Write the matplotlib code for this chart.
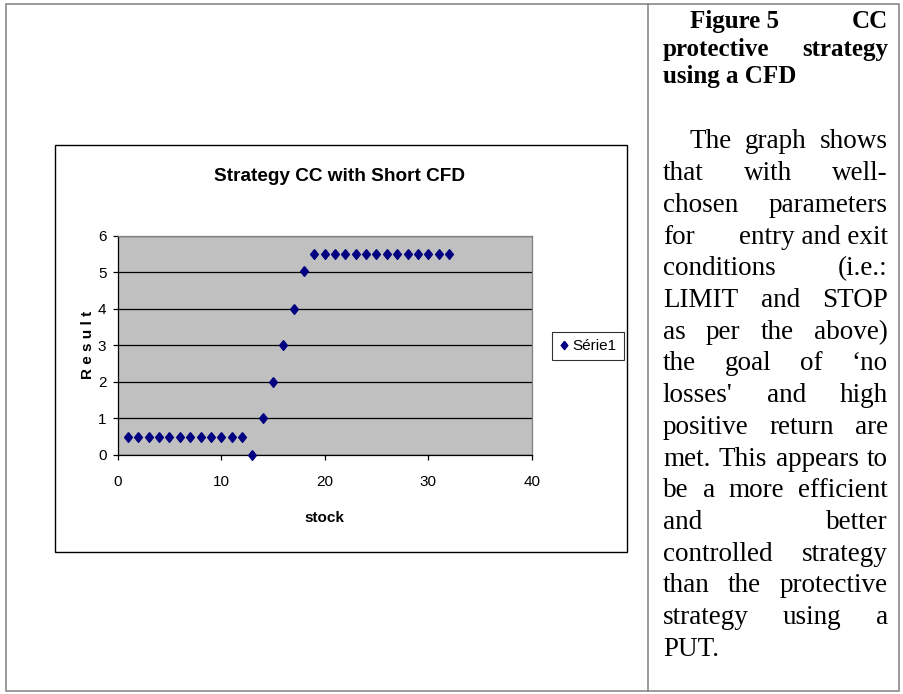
import matplotlib

matplotlib.use("Agg")
import matplotlib.pyplot as plt
from matplotlib.lines import Line2D
from matplotlib.patches import Rectangle

# data
stock = [1, 2, 3, 4, 5, 6, 7, 8, 9, 10, 11, 12, 13, 14, 15, 16,
         17, 18, 19, 20, 21, 22, 23, 24, 25, 26, 27, 28, 29, 30, 31, 32]
result = [0.5, 0.5, 0.5, 0.5, 0.5, 0.5, 0.5, 0.5, 0.5, 0.5, 0.5, 0.5,
          0.0, 1.0, 2.0, 3.0, 4.0, 5.03,
          5.5, 5.5, 5.5, 5.5, 5.5, 5.5, 5.5, 5.5, 5.5, 5.5, 5.5, 5.5, 5.5, 5.5]
x_ticks = [0, 10, 20, 30, 40]
y_ticks = [0, 1, 2, 3, 4, 5, 6]
series_name = "Série1"
chart_title = "Strategy CC with Short CFD"

caption_lines = [
    ["Figure 5", "CC"],
    ["protective", "strategy"],
    ["using a CFD"],
]
body_lines = [
    ["The", "graph", "shows"],
    ["that", "with", "well-"],
    ["chosen", "parameters"],
    ["for", "entry and exit"],
    ["conditions", "(i.e.:"],
    ["LIMIT", "and", "STOP"],
    ["as", "per", "the", "above)"],
    ["the", "goal", "of", "\u2018no"],
    ["losses'", "and", "high"],
    ["positive", "return", "are"],
    ["met.", "This", "appears", "to"],
    ["be", "a", "more", "efficient"],
    ["and", "better"],
    ["controlled", "strategy"],
    ["than", "the", "protective"],
    ["strategy", "using", "a"],
    ["PUT."],
]

W, H = 904, 694
fig = plt.figure(figsize=(W / 100, H / 100), dpi=100)
fig.patch.set_facecolor("white")


def fx(px):
    return px / W


def fy(py):
    return 1 - py / H


# table frame
grey = "#808080"
fig.add_artist(Rectangle((fx(6), fy(691)), fx(899) - fx(6), fy(4) - fy(691),
                         transform=fig.transFigure, fill=False, edgecolor=grey, lw=1.1))
fig.add_artist(Line2D([fx(648), fx(648)], [fy(4), fy(691)],
                      transform=fig.transFigure, color=grey, lw=1.1))

# chart area frame
fig.add_artist(Rectangle((fx(55), fy(552)), fx(627) - fx(55), fy(145) - fy(552),
                         transform=fig.transFigure, fill=False, edgecolor="black", lw=1.0))

sans = "Liberation Sans"
ax = fig.add_axes([fx(117.7), fy(455), fx(531.7) - fx(117.7), fy(235.7) - fy(455)])
ax.set_facecolor("#C0C0C0")
ax.set_xlim(0, 40)
ax.set_ylim(0, 6)
ax.set_xticks(x_ticks)
ax.set_yticks(y_ticks)
for s in ["top", "right"]:
    ax.spines[s].set_color(grey)
for s in ["left", "bottom"]:
    ax.spines[s].set_color("black")
for s in ax.spines.values():
    s.set_linewidth(0.9)
ax.yaxis.grid(True, color="black", lw=0.9)
ax.set_axisbelow(True)
ax.tick_params(axis="both", direction="out", length=3.6, width=0.9, colors="black",
               labelsize=11)
ax.tick_params(axis="y", pad=4.5)
ax.tick_params(axis="x", pad=11)
for lab in ax.get_xticklabels() + ax.get_yticklabels():
    lab.set_fontfamily(sans)

diamond = [(0, 1), (0.8, 0), (0, -1), (-0.8, 0), (0, 1)]
ax.plot(stock, result, linestyle="none", marker=diamond, markersize=7,
        color="#000080", label=series_name, clip_on=False, zorder=3)

leg = ax.legend(loc="center", bbox_to_anchor=(fx(588), fy(346)),
                bbox_transform=fig.transFigure, frameon=True, fancybox=False,
                handlelength=0.6, handletextpad=0.3, borderpad=0.45,
                prop={"family": sans, "size": 11})
leg.get_frame().set_edgecolor("black")
leg.get_frame().set_linewidth(0.8)
leg.legend_handles[0].set_markersize(6)

fig.text(fx(340), fy(181), chart_title, ha="center", va="baseline",
         fontfamily=sans, fontweight="bold", fontsize=13.7)
fig.text(fx(324), fy(518), "stock", ha="center", va="center",
         fontfamily=sans, fontweight="bold", fontsize=11)
fig.text(fx(88), fy(345), " ".join("Result"), ha="center", va="center", rotation=90,
         fontfamily=sans, fontweight="bold", fontsize=11)

# justified text in right column
renderer = fig.canvas.get_renderer()


def justify(lines, left, right, base, step, indent, size, weight):
    for i, groups in enumerate(lines):
        y = base + i * step
        x = left + (indent if i == 0 else 0)
        items = []
        for g in groups:
            t = fig.text(fx(x), fy(y), g, ha="left", va="baseline",
                         fontfamily="Liberation Serif", fontsize=size, fontweight=weight)
            items.append((t, t.get_window_extent(renderer).width))
        last = i == len(lines) - 1
        if len(items) == 1 or last:
            gap = size * 0.25 * 100 / 72
        else:
            gap = (right - x - sum(w for _, w in items)) / (len(items) - 1)
        for t, w in items:
            t.set_x(fx(x))
            x += w + gap


justify(caption_lines, 663, 888, 28.3, 27.6, 27, 18, "bold")
justify(body_lines, 663, 888, 148.5, 31.7, 27, 19.5, "normal")

fig.savefig("out.png", dpi=100)
